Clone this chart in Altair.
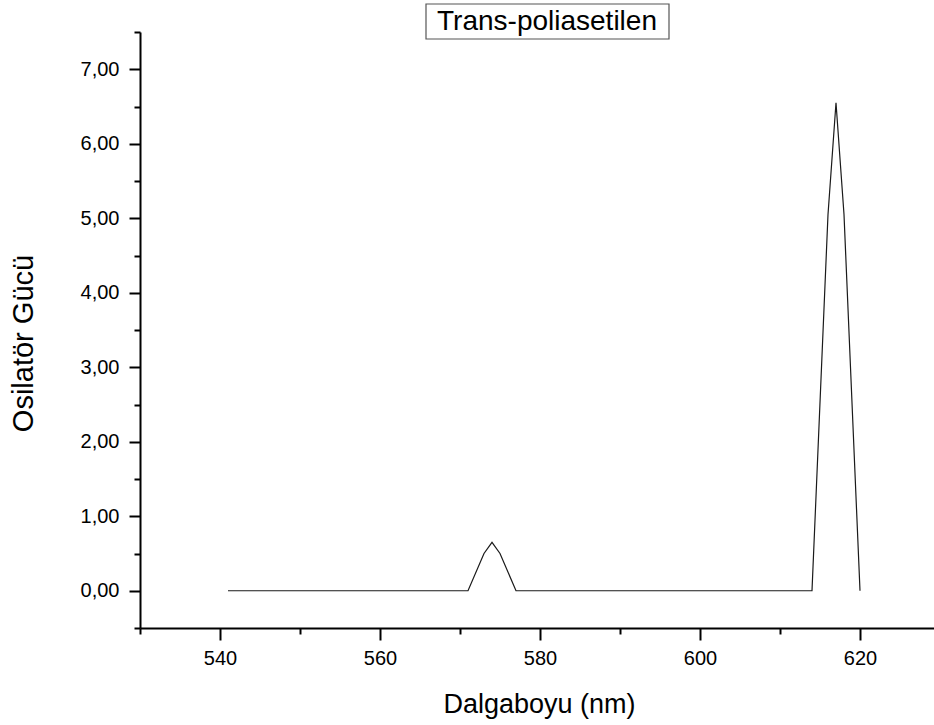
import altair as alt
import pandas as pd

# Oscillator strength vs wavelength (nm), trans-polyacetylene
wavelength = [541, 571, 573, 574, 575, 577, 614, 616, 617, 618, 620]
strength = [0.0, 0.0, 0.50, 0.65, 0.50, 0.0, 0.0, 5.05, 6.55, 5.05, 0.0]

x_tick_values = [530, 540, 550, 560, 570, 580, 590, 600, 610, 620]
y_tick_values = [-0.5, 0.0, 0.5, 1.0, 1.5, 2.0, 2.5, 3.0, 3.5, 4.0,
                 4.5, 5.0, 5.5, 6.0, 6.5, 7.0, 7.5]
title_text = ["Trans-poliasetilen"]

FONT = "Liberation Sans"
PLOT_W = 794
PLOT_H = 596

df = pd.DataFrame({"wavelength": wavelength, "strength": strength})
title_df = pd.DataFrame({"label": title_text})

x_axis = alt.Axis(
    values=x_tick_values,
    labelExpr="datum.value % 20 === 0 ? format(datum.value, 'd') : ''",
    tickSize={"condition": {"test": "datum.value % 20 === 0", "value": 12}, "value": 6},
    tickWidth=2,
    tickColor="black",
    domainWidth=2,
    domainColor="black",
    labelFont=FONT,
    labelFontSize=20,
    labelColor="black",
    labelPadding=8,
    grid=False,
    title="Dalgaboyu (nm)",
    titleFont=FONT,
    titleFontSize=27,
    titleFontWeight="normal",
    titleColor="black",
    titleX=399,
    titleY=84,
    titleAlign="center",
    titleBaseline="alphabetic",
)

y_axis = alt.Axis(
    values=y_tick_values,
    labelExpr="datum.value % 1 === 0 ? replace(format(datum.value, '.2f'), '.', ',') : ''",
    tickSize={"condition": {"test": "datum.value % 1 === 0", "value": 11}, "value": 6},
    tickWidth=2,
    tickColor="black",
    domainWidth=2,
    domainColor="black",
    labelFont=FONT,
    labelFontSize=20,
    labelColor="black",
    labelPadding=10,
    grid=False,
    title="Osilatör Gücü",
    titleFont=FONT,
    titleFontSize=29,
    titleFontWeight="normal",
    titleColor="black",
    titleAngle=-90,
    titleX=-117,
    titleY=311,
    titleAlign="center",
    titleBaseline="middle",
)

line = alt.Chart(df).mark_line(color="#1a1a1a", strokeWidth=1.2).encode(
    x=alt.X("wavelength:Q", scale=alt.Scale(domain=[530, 629.25], nice=False, zero=False), axis=x_axis),
    y=alt.Y("strength:Q", scale=alt.Scale(domain=[-0.5, 7.5], nice=False, zero=False), axis=y_axis),
)

# boxed heading above the plot
title_box = alt.Chart(title_df).mark_rect(
    fill="white", stroke="#555555", strokeWidth=1.2
).encode(
    x=alt.value(286), x2=alt.value(529),
    y=alt.value(-28), y2=alt.value(7),
)
title_label = alt.Chart(title_df).mark_text(
    font=FONT, fontSize=28, color="black", align="center", baseline="middle"
).encode(
    x=alt.value(407), y=alt.value(-10), text="label:N"
)

chart = alt.layer(line, title_box, title_label).properties(
    width=PLOT_W,
    height=PLOT_H,
    padding={"left": 140, "top": 32, "right": 0, "bottom": 97},
    autosize=alt.AutoSizeParams(type="none"),
    background="white",
).configure_view(stroke=None)

chart.save("out.html", embed_options={"renderer": "svg", "actions": False})
